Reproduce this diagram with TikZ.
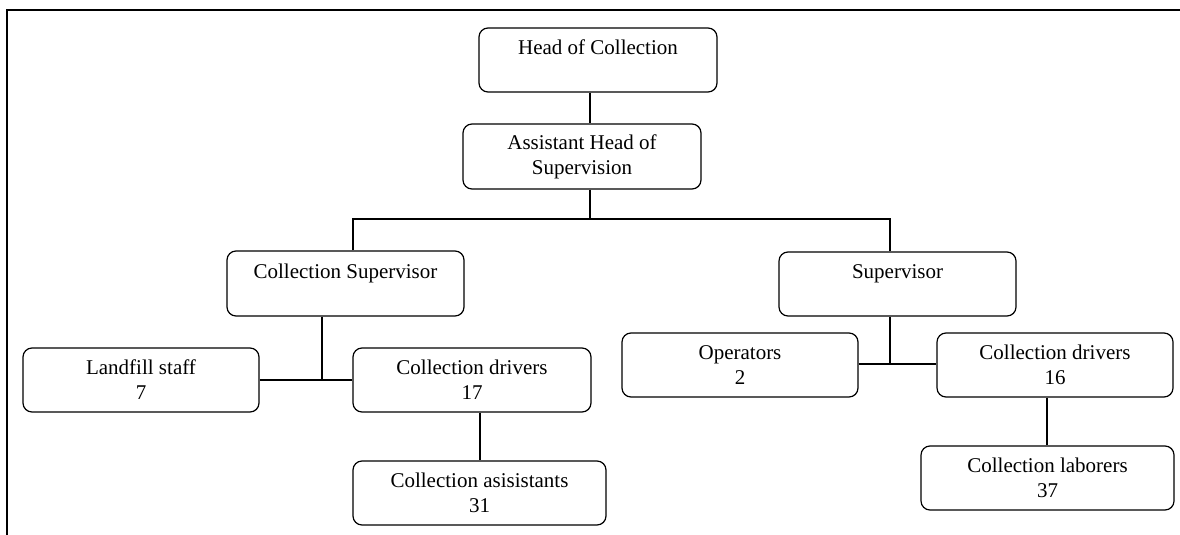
\documentclass[tikz,border=0pt]{standalone}
\usepackage{fontspec}
\setmainfont{Liberation Serif}
\begin{document}
\begin{tikzpicture}[x=1pt, y=-1pt,
  unit/.style={draw, rounded corners=9pt, line width=1.2pt, minimum height=64pt,
               inner sep=0pt, align=center, font=\fontsize{21}{25}\selectfont},
  link/.style={line width=1.2pt},
  frame/.style={line width=2pt}
]
  \useasboundingbox (0,0) rectangle (1180,535);

  % Page frame
  \draw[frame] (7,535) -- (7,10) -- (1180,10);

  % Top of the chart
  \node[unit, minimum width=238pt] (head) at (598,60) {Head of Collection\\~};
  \node[unit, minimum width=238pt, minimum height=65pt] (ahs) at (582,156.5)
       {Assistant Head of\\Supervision};

  % Supervisors
  \node[unit, minimum width=237pt, minimum height=65pt] (csup) at (345.5,283.5)
       {Collection Supervisor\\~};
  \node[unit, minimum width=237pt] (sup) at (897.5,284) {Supervisor\\~};

  % Left branch
  \node[unit, minimum width=236pt] (land) at (141,380) {Landfill staff\\7};
  \node[unit, minimum width=238pt] (drv1) at (472,380) {Collection drivers\\17};
  \node[unit, minimum width=253pt] (asis) at (479.5,493) {Collection asisistants\\31};

  % Right branch
  \node[unit, minimum width=236pt] (oper) at (740,365) {Operators\\2};
  \node[unit, minimum width=236pt] (drv2) at (1055,365) {Collection drivers\\16};
  \node[unit, minimum width=253pt] (labr) at (1047.5,478) {Collection laborers\\37};

  % Connections
  \coordinate (spine) at (590,219);
  \draw[link] (head.south -| spine) -- (ahs.north -| spine);
  \draw[link] (ahs.south -| spine) -- (spine);
  \draw[link] (csup.north -| 353,0) |- (spine) -| (sup.north -| 890,0);

  \draw[link] (csup.south -| 322,0) -- (322,380);
  \draw[link] (land.east) -- (drv1.west);
  \draw[link] (drv1.south -| 480,0) -- (asis.north -| 480,0);

  \draw[link] (sup.south -| 890,0) -- (890,364);
  \draw[link] (oper.east |- 0,364) -- (drv2.west |- 0,364);
  \draw[link] (drv2.south -| 1047,0) -- (labr.north -| 1047,0);
\end{tikzpicture}
\end{document}
